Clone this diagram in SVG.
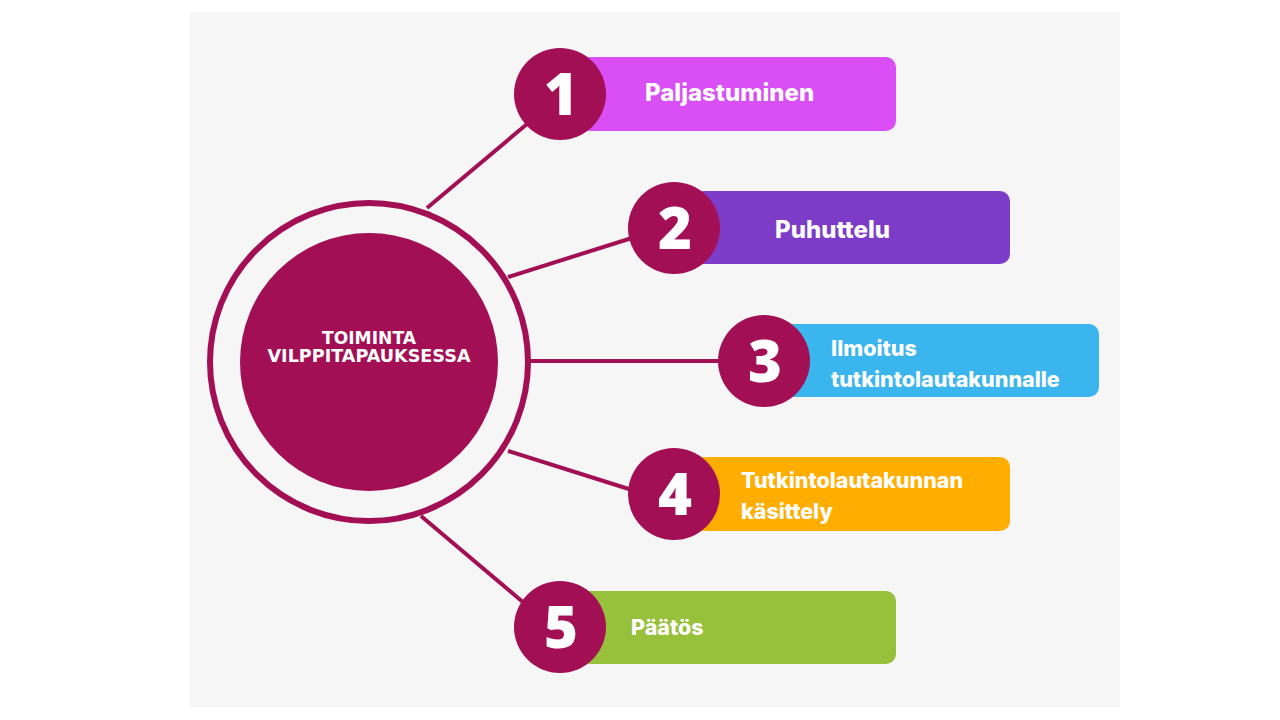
<svg xmlns="http://www.w3.org/2000/svg" width="1280" height="720" viewBox="0 0 1280 720">
<style>
.num{fill:#a30f55}
.numt{fill:#fff;font-family:"Open Sans","DejaVu Sans",sans-serif;font-weight:800;font-size:58px;text-anchor:middle}
.lab{fill:#fff;font-family:Inter,"Liberation Sans",sans-serif;font-weight:800;font-size:21.5px}
.big{font-size:24px}
.conn line{stroke:#a30f55;stroke-width:4}
</style>
<rect width="1280" height="720" fill="#ffffff"/>
<rect x="190" y="12" width="930" height="695" fill="#f6f6f6"/>
<g class="conn" id="connectors">
<line x1="427" y1="208" x2="527" y2="124"/>
<line x1="508" y1="277" x2="632" y2="238"/>
<line x1="530" y1="361" x2="720" y2="361"/>
<line x1="508" y1="451" x2="632" y2="490"/>
<line x1="421" y1="516" x2="524" y2="603"/>
</g>
<g id="center">
<circle cx="369" cy="362" r="159" fill="none" stroke="#a30f55" stroke-width="6"/>
<circle cx="369" cy="362" r="129" fill="#a30f55"/>
<text x="369" y="344" fill="#fff" font-family="'DejaVu Sans',sans-serif" font-weight="bold" font-size="17" text-anchor="middle" textLength="94" lengthAdjust="spacingAndGlyphs">TOIMINTA</text>
<text x="369" y="362" fill="#fff" font-family="'DejaVu Sans',sans-serif" font-weight="bold" font-size="17" text-anchor="middle" textLength="203" lengthAdjust="spacingAndGlyphs">VILPPITAPAUKSESSA</text>
</g>
<g id="step1">
<rect x="580" y="57" width="316" height="74" rx="10" fill="#d94ff5"/>
<circle class="num" cx="560" cy="94" r="46"/>
<text class="numt" x="561" y="115">1</text>
<text class="lab big" x="645" y="101">Paljastuminen</text>
</g>
<g id="step2">
<rect x="694" y="191" width="316" height="73" rx="10" fill="#7d3cc8"/>
<circle class="num" cx="674" cy="228" r="46"/>
<text class="numt" x="675" y="249">2</text>
<text class="lab big" x="775" y="238">Puhuttelu</text>
</g>
<g id="step3">
<rect x="784" y="324" width="315" height="73" rx="10" fill="#3bb5ee"/>
<circle class="num" cx="764" cy="361" r="46"/>
<text class="numt" x="765" y="382">3</text>
<text class="lab" x="831" y="356">Ilmoitus</text>
<text class="lab" x="831" y="387">tutkintolautakunnalle</text>
</g>
<g id="step4">
<rect x="694" y="457" width="316" height="74" rx="10" fill="#ffae00"/>
<circle class="num" cx="674" cy="494" r="46"/>
<text class="numt" x="675" y="515">4</text>
<text class="lab" x="741" y="488">Tutkintolautakunnan</text>
<text class="lab" x="741" y="519">käsittely</text>
</g>
<g id="step5">
<rect x="580" y="591" width="316" height="73" rx="10" fill="#97c03b"/>
<circle class="num" cx="560" cy="627" r="46"/>
<text class="numt" x="561" y="648">5</text>
<text class="lab" x="631" y="635">Päätös</text>
</g>
</svg>
